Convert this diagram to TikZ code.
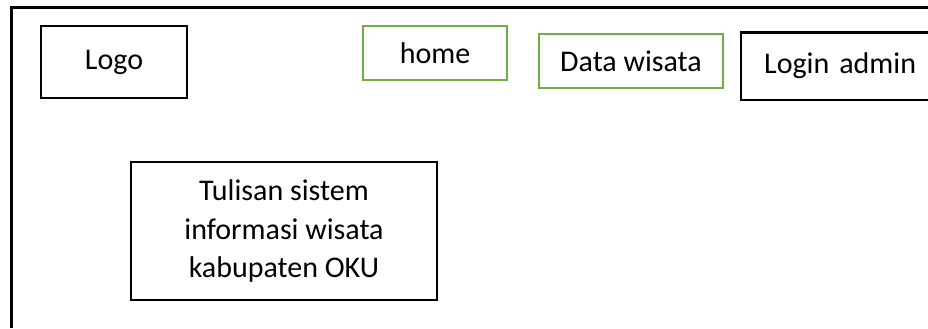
\documentclass[tikz,border=0pt]{standalone}
\usepackage{fontspec}
\setmainfont{Carlito}
\usepackage{xcolor}
\usepackage{tikz}
\definecolor{leaf}{RGB}{112,173,71}
\tikzset{
  box/.style   ={rectangle, draw=black, line width=1.2pt, fill=white, align=center,
                 font=\fontsize{15}{19.2}\selectfont, inner sep=0pt},
  boxg/.style  ={box, draw=leaf, line width=1pt},
  frame/.style ={draw=black, line width=1.2pt},
}
\begin{document}
\begin{tikzpicture}[x=0.5pt, y=-0.5pt]
\useasboundingbox (0,0) rectangle (928,328);
% page frame, cut off at right and bottom
\draw[frame] (11.5,328) -- (11.5,7.5) -- (928,7.5);
% header
\node[box, minimum width=73pt, minimum height=36pt] (logo) at (114,62) {Logo};
\node[boxg, minimum width=72pt, minimum height=27pt] (home) at (435,53) {home};
\node[boxg, minimum width=92pt, minimum height=27pt] (data) at (631,61) {Data wisata};
\node[box, draw=none, anchor=west, minimum height=32.5pt, text width=80pt,
      align=left, inner xsep=11pt] (login) at (741,66) {Login admin};
\draw[frame] (login.north east) -- (login.north west) -- (login.south west) -- (login.south east);
% title block
\node[box, minimum width=153pt, minimum height=69pt] (judul) at (284,231)
  {Tulisan sistem\\informasi wisata\\kabupaten OKU};
\end{tikzpicture}
\end{document}
